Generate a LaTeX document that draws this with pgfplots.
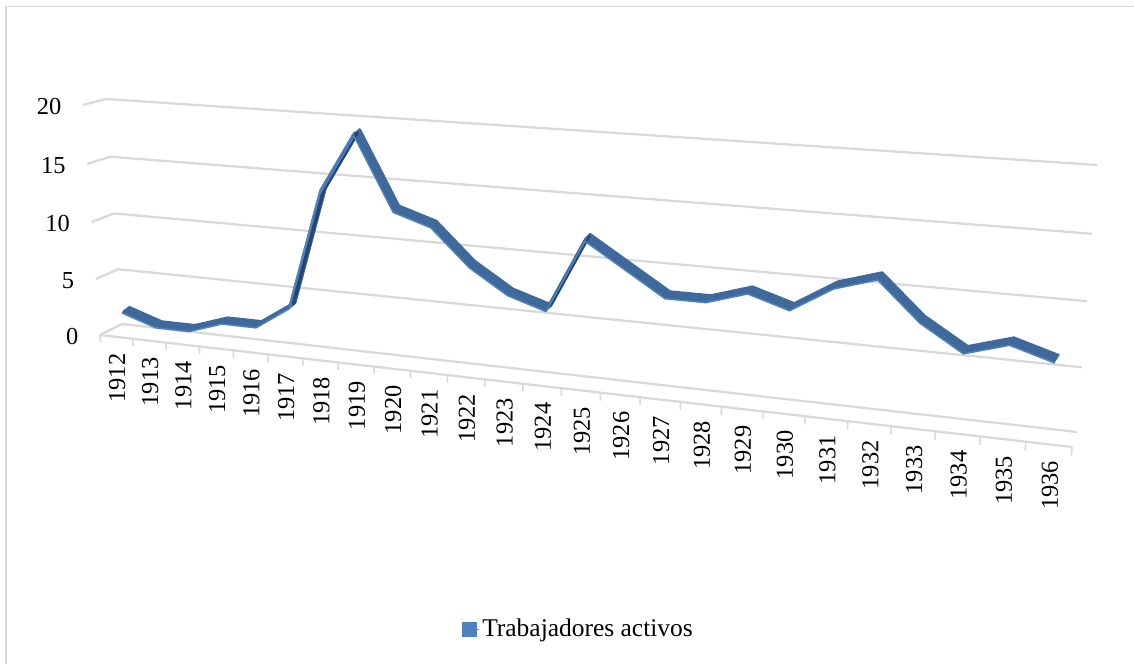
\documentclass[border=0pt]{standalone}
\usepackage{pgfplots}
\usepackage{pgfplotstable}
\usepackage{fontspec}
\setmainfont{Liberation Serif}
\pgfplotsset{compat=1.18}
\definecolor{gridc}{HTML}{D9D9D9}
\definecolor{ribbon}{HTML}{40699B}
\definecolor{ribbonlight}{HTML}{4F81BD}
\definecolor{ribbondark}{HTML}{24466F}
\pgfplotstableread{
year v
1912 2
1913 1
1914 1
1915 2
1916 2
1917 4
1918 14
1919 19
1920 13
1921 12
1922 9
1923 7
1924 6
1925 12
1926 10
1927 8
1928 8
1929 9
1930 8
1931 10
1932 11
1933 8
1934 6
1935 7
1936 6
}\datatable
\pgfplotstableread{
year v
1917 4
1918 14
1919 19
}\riseA
\pgfplotstableread{
year v
1924 6
1925 12
}\riseB
\pgfplotstableread{
v w
0 0
5 0
10 0
15 0
20 0
}\ylabels
\pgfplotstableread{
t w
0 0
25 0
}\endpts
\pgfplotstableread{
v w
0 0
-0.65 0
}\tickends
\newcommand{\T}{(\thisrow{year}-1911.5)}
\begin{document}
\begin{tikzpicture}
\useasboundingbox (0,0) rectangle (850.5pt,498pt);
\begin{axis}[
  at={(0,0)}, anchor=south west,
  scale only axis, width=850.5pt, height=498pt,
  xmin=0, xmax=1134, ymin=0, ymax=664, y dir=reverse,
  hide axis, clip=false,
  declare function={
    xb(\aa,\bb)=(776.8*\aa/25-19.497*\bb/20+122)/(-0.16546*\aa/25-0.03299*\bb/20+1);
    yb(\aa,\bb)=(36.52*\aa/25-228.27*\bb/20+324)/(-0.16546*\aa/25-0.03299*\bb/20+1);
    xf(\aa,\bb)=(794.0*\aa/25-19.804*\bb/20+100)/(-0.16605*\aa/25-0.03378*\bb/20+1);
    yf(\aa,\bb)=(37.78*\aa/25-233.55*\bb/20+335)/(-0.16605*\aa/25-0.03378*\bb/20+1);
    xm(\aa,\bb)=0.5*xb(\aa,\bb)+0.5*xf(\aa,\bb);
    ym(\aa,\bb)=0.5*yb(\aa,\bb)+0.5*yf(\aa,\bb);
  },
  every axis plot/.append style={forget plot},
  legend style={at={(axis cs:462,629)}, anchor=west, draw=none, fill=none,
    font=\fontsize{19.1}{22}\selectfont, inner sep=0pt, outer sep=0pt, legend cell align=left},
  legend image code/.code={\fill[ribbonlight] (0pt,-5.25pt) rectangle (10.5pt,5.25pt);\path (0pt,0pt) -- (12.8pt,0pt);},
]
\addlegendimage{ribbonlight}
\addlegendentry{Trabajadores activos}
% frame
\addplot[gridc, line width=1.3pt] coordinates {(6,664)(6,6.5)(1134,6.5)};
% back wall and side wall
\pgfplotsinvokeforeach{0,5,10,15,20}{
  \addplot[gridc, line width=1.7pt] table[x expr={xb(\thisrow{t},#1)}, y expr={yb(\thisrow{t},#1)}] \endpts;
  \addplot[gridc, line width=1.7pt] table[x expr={\thisrow{t}/25*xb(0,#1)+(1-\thisrow{t}/25)*xf(0,#1)}, y expr={\thisrow{t}/25*yb(0,#1)+(1-\thisrow{t}/25)*yf(0,#1)}] \endpts;
}
% front axis
\addplot[gridc, line width=1.7pt] table[x expr={xf(\thisrow{t},0)}, y expr={yf(\thisrow{t},0)}] \endpts;
% ticks
\pgfplotsinvokeforeach{0,...,25}{
  \addplot[gridc, line width=1.2pt] table[x expr={xf(#1,\thisrow{v})}, y expr={yf(#1,\thisrow{v})}] \tickends;
}
% y labels
\addplot[draw=none, mark=none, point meta=explicit symbolic, nodes near coords,
  every node near coord/.append style={anchor=east, inner sep=0pt, font=\fontsize{18.3}{20}\selectfont}]
  table[x expr={xf(0,\thisrow{v})-21.5}, y expr={yf(0,\thisrow{v})+1.5}, meta=v] \ylabels;
% x labels
\addplot[draw=none, mark=none, point meta=explicit symbolic, nodes near coords,
  every node near coord/.append style={rotate=90, anchor=east, inner sep=0pt, font=\fontsize{18.3}{20}\selectfont}]
  table[x expr={xf(\T,0)+1}, y expr={yf(\T,0)+16.5}, meta=year] \datatable;
% ribbon: the polyline swept along the depth direction
\pgfplotsinvokeforeach{1,0.75,0.5,0.25,0,-0.25,-0.5,-0.75,-1}{
  \addplot[ribbon, line width=2pt, line join=round] table[
    x expr={xm(\T,\thisrow{v})+#1*(3-\T/25)},
    y expr={ym(\T,\thisrow{v})-#1*(2.25+0.75*\T/25)}] \datatable;
}
% steep rise: wider, with a dark face
\addplot[ribbonlight, line width=2pt] table[
    x expr={xm(\T,\thisrow{v})-2.2},
    y expr={ym(\T,\thisrow{v})}] \riseA;
\addplot[ribbondark, line width=2.8pt] table[
    x expr={xm(\T,\thisrow{v})+0.6},
    y expr={ym(\T,\thisrow{v})}] \riseA;
\pgfplotsinvokeforeach{0,0.3,0.6}{
  \addplot[ribbondark, line width=0.9pt] table[
    x expr={xm(\T,\thisrow{v})+#1*(3-\T/25)+1},
    y expr={ym(\T,\thisrow{v})-#1*(2.25+0.75*\T/25)}] \riseB;
}
% lighter lower edge
\addplot[ribbonlight, line width=1.1pt, line join=round] table[
    x expr={xm(\T,\thisrow{v})-1.1*(3-\T/25)},
    y expr={ym(\T,\thisrow{v})+1.1*(2.25+0.75*\T/25)+1.4}] \datatable;
\end{axis}
\end{tikzpicture}
\end{document}
